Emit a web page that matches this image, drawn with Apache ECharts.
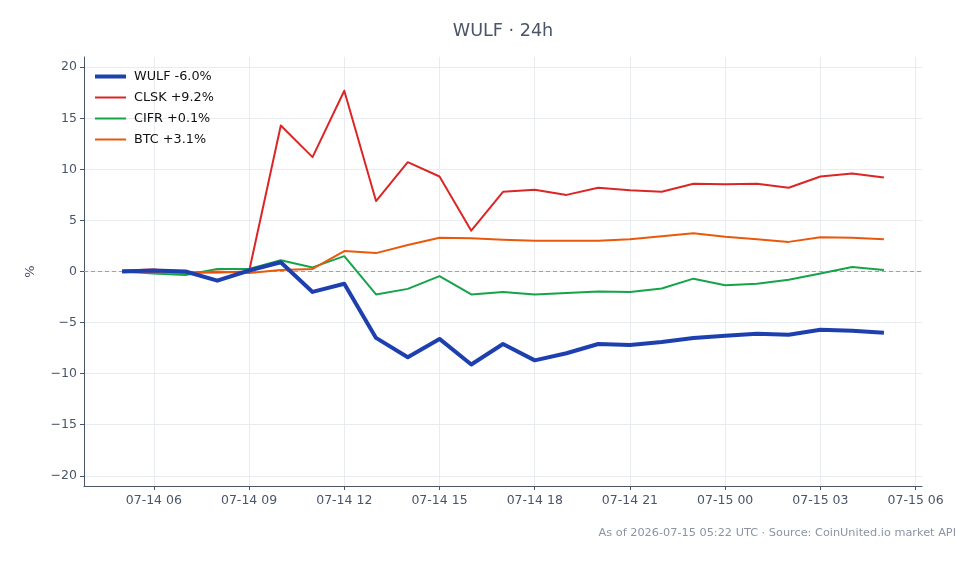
<!DOCTYPE html>
<html>
<head>
<meta charset="utf-8">
<script src="https://cdn.jsdelivr.net/npm/echarts@6/dist/echarts.min.js"></script>
<style>
  html, body { margin: 0; padding: 0; background: #fff; }
  #chart { width: 979px; height: 564px; }
</style>
</head>
<body>
<div id="chart"></div>
<script>
// hourly samples, UTC
const times = [
  '07-14 05', '07-14 06', '07-14 07', '07-14 08', '07-14 09', '07-14 10', '07-14 11',
  '07-14 12', '07-14 13', '07-14 14', '07-14 15', '07-14 16', '07-14 17', '07-14 18',
  '07-14 19', '07-14 20', '07-14 21', '07-14 22', '07-14 23', '07-15 00', '07-15 01',
  '07-15 02', '07-15 03', '07-15 04', '07-15 05'
]
const wulf = [0.0, 0.1, 0.0, -0.9, 0.1, 0.9, -2.0, -1.2, -6.5, -8.4, -6.6, -9.1, -7.1,
  -8.7, -8.0, -7.1, -7.2, -6.9, -6.5, -6.3, -6.1, -6.2, -5.7, -5.8, -6.0]
const clsk = [0.1, 0.2, -0.1, -0.1, 0.0, 14.3, 11.2, 17.7, 6.9, 10.7, 9.3, 4.0, 7.8,
  8.0, 7.5, 8.2, 7.95, 7.8, 8.6, 8.55, 8.6, 8.2, 9.3, 9.6, 9.2]
const cifr = [0.0, -0.2, -0.35, 0.25, 0.25, 1.1, 0.4, 1.5, -2.25, -1.7, -0.45, -2.25, -2.0,
  -2.25, -2.1, -1.95, -2.0, -1.67, -0.7, -1.35, -1.2, -0.8, -0.2, 0.45, 0.15]
const btc = [0.0, -0.1, -0.15, 0.0, -0.15, 0.15, 0.25, 2.0, 1.8, 2.6, 3.3, 3.25, 3.1,
  3.0, 3.0, 3.0, 3.15, 3.45, 3.75, 3.4, 3.15, 2.9, 3.35, 3.3, 3.15]

const xTickLabels = ['07-14 06', '07-14 09', '07-14 12', '07-14 15', '07-14 18',
  '07-14 21', '07-15 00', '07-15 03', '07-15 06']
const yTicks = [-20, -15, -10, -5, 0, 5, 10, 15, 20]

const seriesDefs = [
  { name: 'WULF -6.0%', data: wulf, color: '#1e40af', width: 4, z: 5 },
  { name: 'CLSK +9.2%', data: clsk, color: '#dc2626', width: 2, z: 3 },
  { name: 'CIFR +0.1%', data: cifr, color: '#16a34a', width: 2, z: 3 },
  { name: 'BTC +3.1%', data: btc, color: '#ea580c', width: 2, z: 4 }
]

// '07-14 05' -> hours since 07-14 00:00
const toHours = (s) => {
  const day = parseInt(s.slice(3, 5), 10)
  const hr = parseInt(s.slice(6, 8), 10)
  return (day - 14) * 24 + hr
}
const xTickValues = xTickLabels.map(toHours)

const font = 'DejaVu Sans'
const axisColor = '#4a5568'

const chart = echarts.init(document.getElementById('chart'))

const series = seriesDefs.map((s, idx) => {
  const item = {
    name: s.name,
    type: 'line',
    data: times.map((t, i) => [toHours(t), s.data[i]]),
    symbol: 'none',
    z: s.z,
    lineStyle: { color: s.color, width: s.width, join: 'round' },
    itemStyle: { color: s.color },
    emphasis: { disabled: true }
  }
  if (idx === 0) {
    // zero reference line
    item.markLine = {
      silent: true,
      symbol: 'none',
      label: { show: false },
      lineStyle: { color: '#94a3b8', type: [4, 3], width: 1 },
      data: [{ yAxis: 0 }],
      z: 1
    }
  }
  return item
})

chart.setOption({
  animation: false,
  backgroundColor: '#fff',
  graphic: [
    {
      type: 'text', x: 503, y: 31,
      style: {
        text: 'WULF · 24h', font: '17.6px "DejaVu Sans"', fill: axisColor,
        align: 'center', verticalAlign: 'middle'
      }
    },
    {
      type: 'text', x: 956, y: 533,
      style: {
        text: 'As of 2026-07-15 05:22 UTC · Source: CoinUnited.io market API',
        font: '11.3px "DejaVu Sans"', fill: '#8a94a3',
        align: 'right', verticalAlign: 'middle'
      }
    }
  ],
  legend: {
    orient: 'vertical',
    left: 93,
    top: 70,
    padding: 0,
    itemWidth: 31,
    itemHeight: 14,
    itemGap: 8,
    itemStyle: { opacity: 0 },
    textStyle: { fontFamily: font, fontSize: 12.8, color: '#111', padding: [0, 0, 0, 3] },
    data: seriesDefs.map(s => ({
      name: s.name,
      lineStyle: { color: s.color, width: s.width }
    }))
  },
  grid: { left: 84, right: 57, top: 57, bottom: 78 },
  xAxis: {
    type: 'value',
    min: 3.8,
    max: 30.2,
    axisLine: { show: true, onZero: false, lineStyle: { color: axisColor, width: 1 } },
    axisTick: { show: true, length: 4, customValues: xTickValues, lineStyle: { color: axisColor } },
    axisLabel: {
      customValues: xTickValues,
      margin: 8,
      color: axisColor,
      fontFamily: font,
      fontSize: 12.5,
      formatter: (v) => xTickLabels[xTickValues.indexOf(v)] || ''
    },
    splitLine: { show: true, lineStyle: { color: '#e8ebef', width: 1 } }
  },
  yAxis: {
    type: 'value',
    min: -21,
    max: 21,
    name: '%',
    nameLocation: 'middle',
    nameGap: 47,
    nameRotate: 90,
    nameTextStyle: { color: axisColor, fontFamily: font, fontSize: 13 },
    axisLine: { show: true, onZero: false, lineStyle: { color: axisColor, width: 1 } },
    axisTick: { show: true, length: 4, customValues: yTicks, lineStyle: { color: axisColor } },
    axisLabel: {
      customValues: yTicks,
      margin: 7,
      color: axisColor,
      fontFamily: font,
      fontSize: 12.5,
      formatter: (v) => String(v).replace('-', '\u2212')
    },
    splitLine: { show: true, lineStyle: { color: '#e8ebef', width: 1 } }
  },
  series: series
})
</script>
</body>
</html>
